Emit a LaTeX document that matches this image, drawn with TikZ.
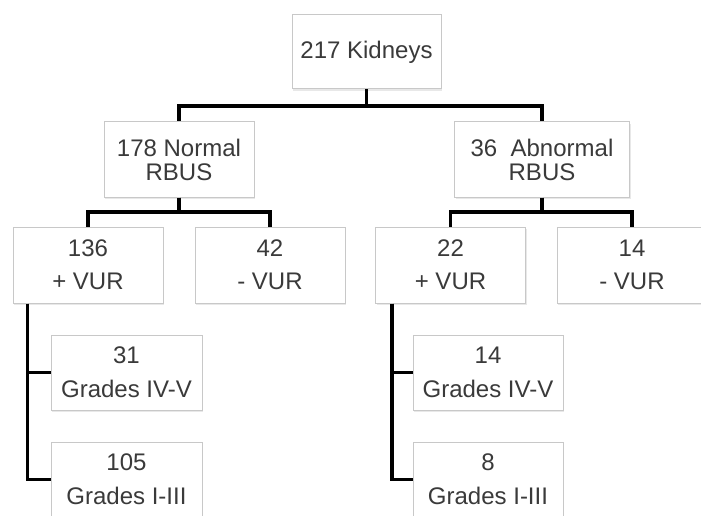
\documentclass[tikz,border=0pt]{standalone}
\usepackage{fontspec}
\setmainfont{Liberation Sans}
\usetikzlibrary{shadows}
\definecolor{boxline}{HTML}{C8C8C8}
\definecolor{txt}{HTML}{3A3A3A}
\tikzset{
  box/.style={draw=boxline, line width=1pt, fill=white, inner sep=0pt,
    minimum width=150pt, minimum height=75pt, align=center, text=txt,
    font=\fontsize{24}{24}\selectfont,
    drop shadow={opacity=0.18, shadow xshift=1pt, shadow yshift=-2pt}},
  conn/.style={draw=black, line width=3.5pt, line join=miter}
}
\begin{document}
\begin{tikzpicture}[x=1pt, y=-1pt]
\useasboundingbox (0,0) rectangle (701,516);
\node[box, minimum width=149pt, minimum height=74pt] (top) at (366.5,52) {217 Kidneys};
\node[box] (normal) at (179,159.5) {178 Normal\\RBUS};
\node[box, minimum width=175pt] (abn) at (542,159.5) {36~~Abnormal\\RBUS};
\node[box, minimum height=76pt] (b136) at (88,265) {136\\[9pt]+ VUR};
\node[box, minimum height=76pt] (b42) at (270,265) {42\\[9pt]- VUR};
\node[box, minimum height=76pt] (b22) at (450.5,265) {22\\[9pt]+ VUR};
\node[box, minimum height=76pt] (b14) at (632,265) {14\\[9pt]- VUR};
\node[box, minimum width=151pt] (g31) at (126.5,372.5) {31\\[10pt]Grades IV-V};
\node[box, minimum width=151pt] (g105) at (126.5,479.5) {105\\[10pt]Grades I-III};
\node[box] (g14) at (488,372.5) {14\\[10pt]Grades IV-V};
\node[box] (g8) at (488,479.5) {8\\[10pt]Grades I-III};
\coordinate (j1) at (366.5,106);
\coordinate (j2) at (179,212);
\coordinate (j3) at (542,212);
\draw[conn] (top.south) |- (normal.north |- j1) -- (normal.north);
\draw[conn] (top.south) |- (abn.north |- j1) -- (abn.north);
\draw[conn] (normal.south) |- (b136.north |- j2) -- (b136.north);
\draw[conn] (normal.south) |- (b42.north |- j2) -- (b42.north);
\draw[conn] (abn.south) |- (b22.north |- j3) -- (b22.north);
\draw[conn] (abn.south) |- (b14.north |- j3) -- (b14.north);
\draw[conn] ([xshift=15pt]b136.south west) |- (g105.west);
\draw[conn] ([xshift=15pt]b136.south west) |- (g31.west);
\draw[conn] ([xshift=17pt]b22.south west) |- (g8.west);
\draw[conn] ([xshift=17pt]b22.south west) |- (g14.west);
\end{tikzpicture}
\end{document}
